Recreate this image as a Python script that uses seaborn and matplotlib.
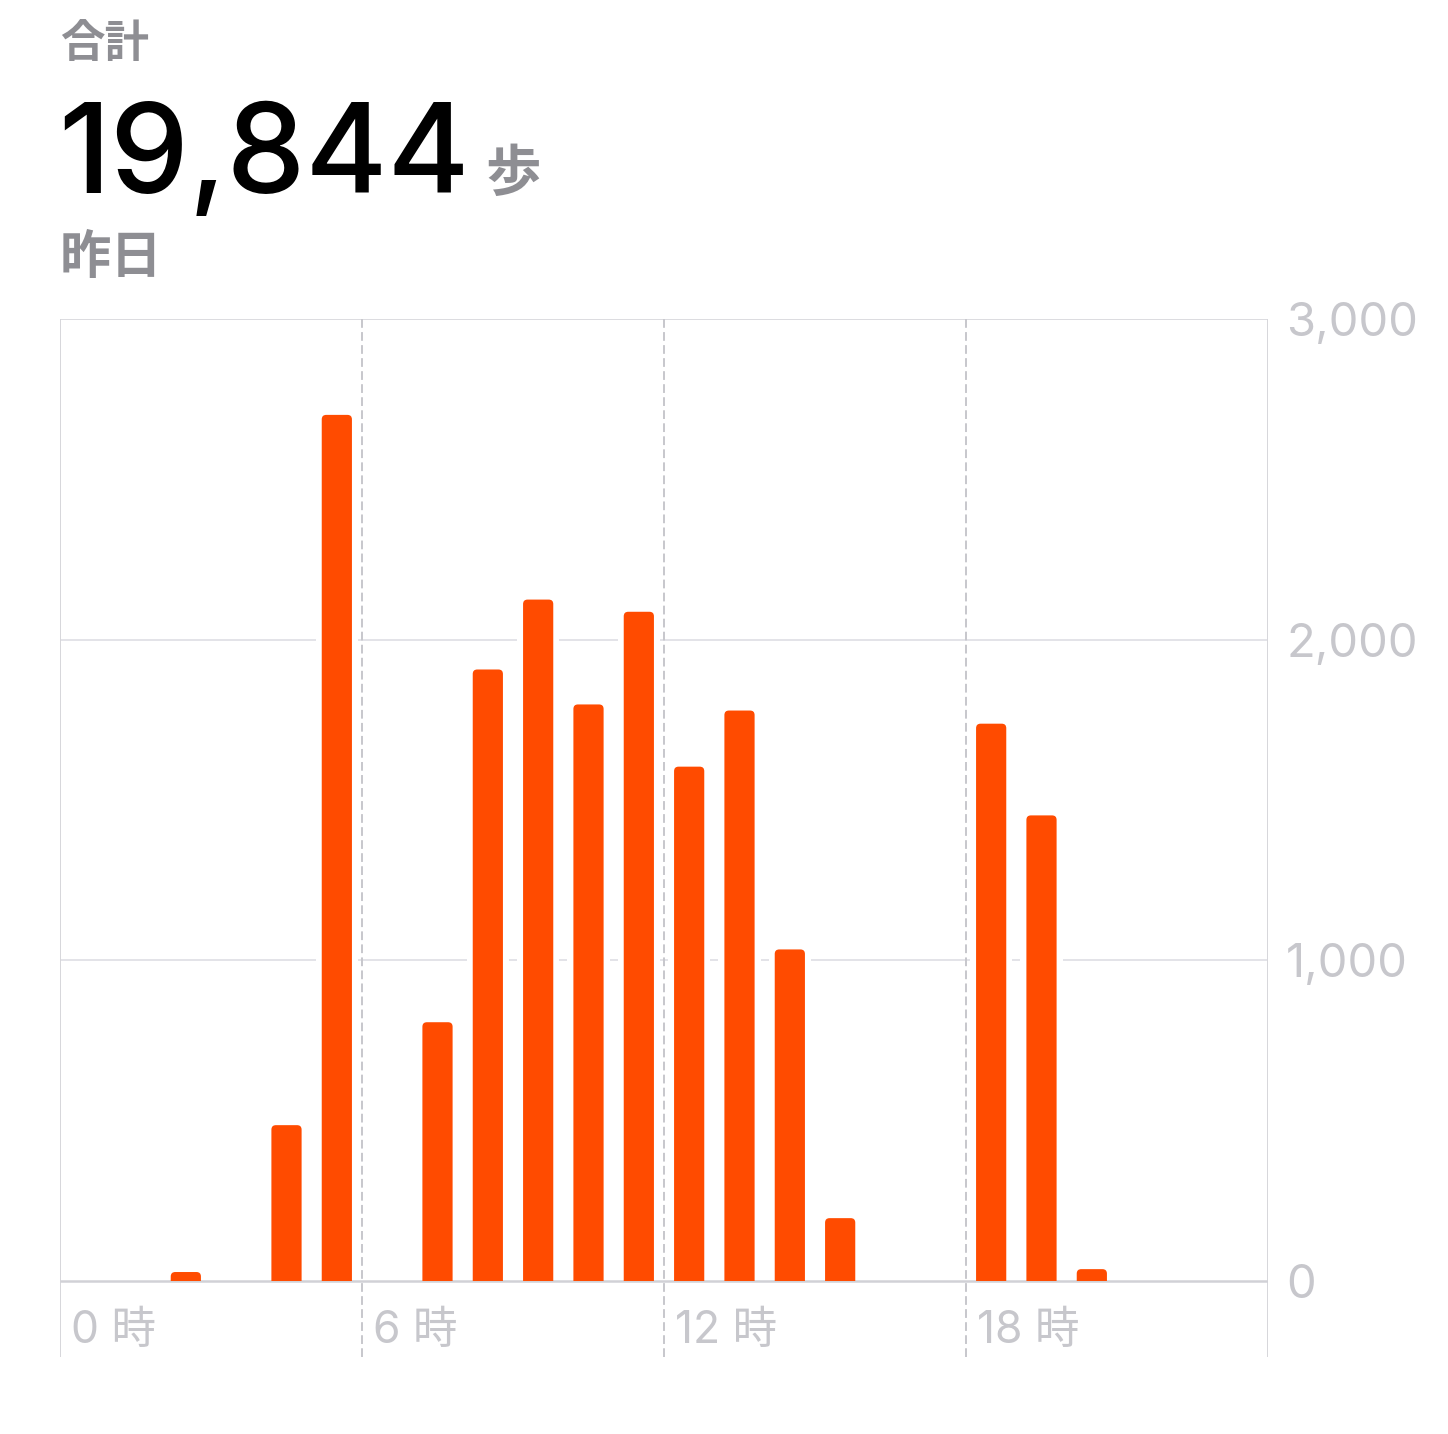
import numpy as np
import pandas as pd
import matplotlib
matplotlib.use("Agg")
import matplotlib.pyplot as plt
import seaborn as sns
from matplotlib.patches import FancyBboxPatch, Rectangle

# ---------------- data ----------------
hours = list(range(24))
steps = [0, 0, 28, 0, 486, 2701, 0, 807, 1907, 2125, 1798, 2087,
         1604, 1779, 1034, 196, 0, 0, 1738, 1452, 37, 0, 0, 0]
y_ticks = [0, 1000, 2000, 3000]
y_tick_labels = ["0", "1,000", "2,000", "3,000"]
x_label_hours = [0, 6, 12, 18]
x_labels = ["0 時", "6 時", "12 時", "18 時"]
header_label = "合計"
total_text = "19,844"
unit_text = "歩"
period_text = "昨日"

# ---------------- style ----------------
sns.set_theme(style="white")
plt.rcParams['font.family'] = ['Noto Sans CJK JP', 'DejaVu Sans']
NUM_FONT = ['Inter', 'Noto Sans CJK JP', 'DejaVu Sans']

BAR = "#FF4B00"
GRAY_TXT = "#8e8e93"
LIGHT_TXT = "#c7c7cc"

W, H = 1448, 1434
fig = plt.figure(figsize=(W / 100, H / 100), dpi=100)
fig.patch.set_facecolor("white")

left_px, right_px, top_px, bot_px = 60, 1268, 319, 1357
zero_px = 1281
ax = fig.add_axes([left_px / W, 1 - bot_px / H, (right_px - left_px) / W, (bot_px - top_px) / H])
px_per_unit_y = (zero_px - top_px) / 3000.0
ymin = -(bot_px - zero_px) / px_per_unit_y
px_per_unit_x = (right_px - left_px) / 24.0

df = pd.DataFrame({"hour": np.array(hours) + 0.5, "steps": steps})

# white halo behind bars (breaks the gridlines around bars)
sns.barplot(data=df, x="hour", y="steps", native_scale=True, width=0.84,
            color="white", saturation=1, errorbar=None, linewidth=0, ax=ax, zorder=2)
sns.barplot(data=df, x="hour", y="steps", native_scale=True, width=0.6,
            color=BAR, saturation=1, errorbar=None, linewidth=0, ax=ax, zorder=4)

# rounded top corners for the coloured bars
r_px = 4.5
r_x = r_px / px_per_unit_x
r_y = r_px / px_per_unit_y
bars = list(ax.containers[-1])
clip_rect = Rectangle((0, 0), 24, 3000, transform=ax.transData)
for b in bars:
    x0, w, h = b.get_x(), b.get_width(), b.get_height()
    b.remove()
    if h <= 0:
        continue
    p = FancyBboxPatch((x0, -r_y), w, h + r_y,
                       boxstyle=f"round,pad=0,rounding_size={r_x}",
                       mutation_aspect=r_y / r_x, facecolor=BAR,
                       edgecolor="none", linewidth=0, zorder=4)
    ax.add_patch(p)
    p.set_clip_path(clip_rect)

# grid
ax.hlines([1000, 2000], 0, 24, color="#e3e3e8", lw=1.4, zorder=1)
ax.hlines([3000], 0, 24, color="#dcdce0", lw=1.4, zorder=1)
ax.hlines([0], 0, 24, color="#d1d1d6", lw=1.8, zorder=3)
ax.vlines([0, 24], ymin, 3000, color="#d6d6da", lw=1.4, zorder=1)
ax.vlines([6, 12, 18], ymin, 3000, color="#c7c7cc", lw=1.4,
          linestyles=(0, (4.5, 2.2)), zorder=1)

ax.set_xlim(0, 24)
ax.set_ylim(ymin, 3000)
for s in ax.spines.values():
    s.set_visible(False)
ax.grid(False)
ax.set_xlabel("")
ax.set_ylabel("")
ax.set_xticks([])
ax.yaxis.tick_right()
ax.set_yticks(y_ticks, y_tick_labels)
ax.tick_params(axis="y", length=0, pad=13, labelsize=34, labelcolor=LIGHT_TXT)
for t in ax.get_yticklabels():
    t.set_family(NUM_FONT)

label_y = -(1331 - zero_px) / px_per_unit_y
for h_, lab in zip(x_label_hours, x_labels):
    ax.text(h_ + 11 / px_per_unit_x, label_y, lab, fontsize=32, color=LIGHT_TXT,
            va="center", ha="left", family=NUM_FONT)

# header texts
fig.text(60 / W, 1 - 44 / H, header_label, fontsize=32, color=GRAY_TXT,
         weight="bold", va="center", ha="left")
fig.text(58 / W, 1 - 193 / H, total_text, fontsize=90, color="black",
         va="baseline", ha="left", family=NUM_FONT, weight="medium")
fig.text(485 / W, 1 - 191 / H, unit_text, fontsize=40, color=GRAY_TXT,
         weight="bold", va="baseline", ha="left")
fig.text(60 / W, 1 - 258 / H, period_text, fontsize=37, color=GRAY_TXT,
         weight="bold", va="center", ha="left")

fig.savefig("out.png", dpi=100, facecolor="white")
